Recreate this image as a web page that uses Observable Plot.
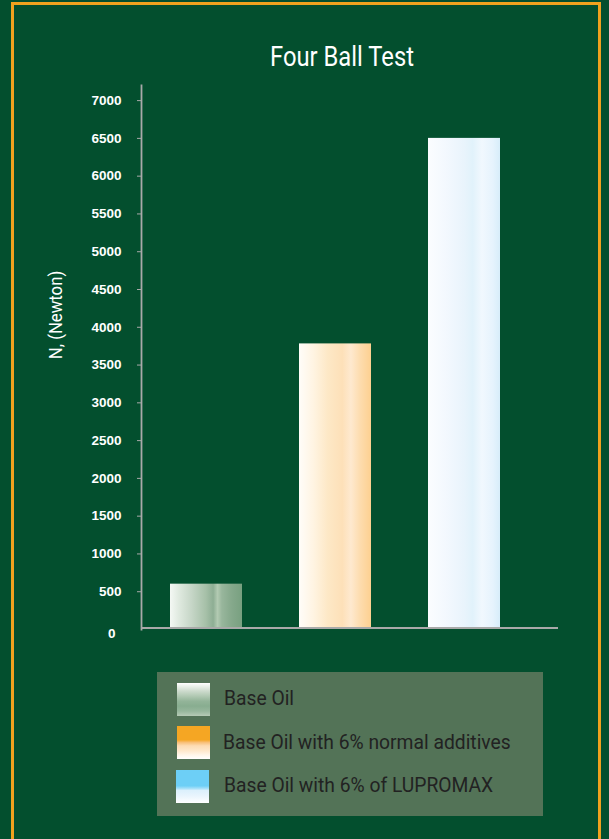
<!DOCTYPE html>
<html>
<head>
<meta charset="utf-8">
<script src="https://cdn.jsdelivr.net/npm/d3@7"></script>
<script src="https://cdn.jsdelivr.net/npm/@observablehq/plot@0.6"></script>
<style>
  html, body { margin: 0; padding: 0; background: #034f2e; width: 609px; height: 839px; overflow: hidden; }
  #wrap { position: relative; width: 609px; height: 839px; }
  #border { position: absolute; left: 11px; top: 2px; width: 584px; height: 900px; border: 3px solid #f0a21e; box-sizing: content-box; }
  #title { position: absolute; left: 342px; top: 57px; transform: translate(-50%, -50%) scaleX(0.88); color: #fff; white-space: nowrap;
           font-family: "Roboto", sans-serif; font-size: 27px; }
  #ylab { position: absolute; left: 55px; top: 315px; transform: translate(-50%, -50%) rotate(-90deg) scaleX(0.93);
          color: #fff; white-space: nowrap; font-family: "Roboto", sans-serif; font-size: 18px; }
  #chart { position: absolute; left: 0; top: 0; }
  #legend { position: absolute; left: 157px; top: 672px; width: 386px; height: 144px; background: #537357; }
  .sw { position: absolute; width: 33px; height: 33px; }
  .lt { position: absolute; color: #222; font-family: "Roboto", sans-serif; font-size: 20.5px; white-space: nowrap;
        transform-origin: 0 50%; transform: scaleX(0.94); }
</style>
</head>
<body>
<div id="wrap">
  <div id="border"></div>
  <div id="chart"></div>
  <div id="title"></div>
  <div id="ylab"></div>
  <div id="legend"></div>
</div>
<script>
const categories = ["Base Oil", "Base Oil with 6% normal additives", "Base Oil with 6% of LUPROMAX"];
const values = [600, 3780, 6500];
const yTicks = [500, 1000, 1500, 2000, 2500, 3000, 3500, 4000, 4500, 5000, 5500, 6000, 6500, 7000];
const zeroLabel = [0];
const titleText = "Four Ball Test";
const yLabel = "N, (Newton)";

// horizontal (vertical-stripe) gradients for bars
const barGradients = [
  [[0, "#f4f8f4"], [0.12, "#e0eae0"], [0.3, "#c6d6c7"], [0.5, "#a6c0a8"], [0.6, "#8eae94"], [0.66, "#b2cab2"], [0.72, "#98b69c"], [0.85, "#86a98c"], [1, "#78a080"]],
  [[0, "#fffdf9"], [0.2, "#fff4e2"], [0.4, "#fde8c6"], [0.6, "#fde0b8"], [0.72, "#fee9cf"], [0.85, "#fddcae"], [1, "#fdd090"]],
  [[0, "#fbfdff"], [0.25, "#f3f8fe"], [0.5, "#e9f4fc"], [0.62, "#e1f2fb"], [0.75, "#f1f8fe"], [0.9, "#e6f3fd"], [1, "#d7edfa"]]
];
// vertical gradients for legend swatches
const swatchGradients = [
  "linear-gradient(to bottom, #ffffff 0%, #e6eee6 12%, #ccdacc 25%, #b0c8b2 40%, #93b499 55%, #88ad90 70%, #96b69c 85%, #b6cab6 100%)",
  "linear-gradient(to bottom, #f5a623 0%, #f5a623 42%, #f9c07a 50%, #fddcb4 60%, #fee8cc 75%, #fff6ea 88%, #ffffff 100%)",
  "linear-gradient(to bottom, #6dcff6 0%, #6dcff6 48%, #a6e0f9 56%, #dcf0fc 62%, #eaf5fd 80%, #ffffff 100%)"
];

const data = categories.map((c, i) => ({cat: c, value: values[i], fill: `url(#barGrad${i})`}));
const tickFont = {fontSize: 13.5, fontWeight: "bold", fontFamily: "'Liberation Sans', Arial, sans-serif"};

const chart = Plot.plot({
  width: 609,
  height: 660,
  marginLeft: 141,
  marginRight: 51,
  marginTop: 85,
  marginBottom: 31,
  style: {background: "transparent", overflow: "visible"},
  x: {domain: categories, paddingInner: 0.44, paddingOuter: 0.324, align: 0.333, axis: null},
  y: {domain: [0, 7200], axis: null},
  color: {type: "identity"},
  marks: [
    Plot.barY(data, {x: "cat", y: "value", fill: "fill", insetBottom: 2}),
    Plot.frame({anchor: "left", stroke: "#a9a9a9", strokeWidth: 1.8}),
    Plot.ruleY([0], {stroke: "#a9a9a9", strokeWidth: 2.2, dy: -1.5}),
    Plot.axisY({ticks: yTicks, tickSize: 4, tickPadding: 16, stroke: "#a9a9a9", fill: "#ffffff",
                ...tickFont, tickFormat: d => String(d), label: null}),
    Plot.text(zeroLabel, {frameAnchor: "left", y: d => d, text: d => String(d), textAnchor: "end", dx: -26, dy: 4, fill: "#fff", ...tickFont})
  ]
});

// add gradient defs
const svg = d3.select(chart);
const defs = svg.insert("defs", ":first-child");
barGradients.forEach((stops, i) => {
  const g = defs.append("linearGradient").attr("id", `barGrad${i}`).attr("x1", "0").attr("x2", "1").attr("y1", "0").attr("y2", "0");
  stops.forEach(([o, c]) => g.append("stop").attr("offset", o).attr("stop-color", c));
});

document.getElementById("chart").appendChild(chart);
document.getElementById("title").textContent = titleText;
document.getElementById("ylab").textContent = yLabel;

// legend
const legend = document.getElementById("legend");
const swPos = [{l: 20, t: 11}, {l: 20, t: 54}, {l: 19, t: 98}];
const txtPos = [{l: 67, t: 14}, {l: 66, t: 58}, {l: 67, t: 101}];
categories.forEach((c, i) => {
  const sw = document.createElement("div");
  sw.className = "sw";
  sw.style.left = swPos[i].l + "px";
  sw.style.top = swPos[i].t + "px";
  sw.style.background = swatchGradients[i];
  legend.appendChild(sw);
  const t = document.createElement("div");
  t.className = "lt";
  t.style.left = txtPos[i].l + "px";
  t.style.top = txtPos[i].t + "px";
  t.textContent = c;
  legend.appendChild(t);
});
</script>
</body>
</html>
